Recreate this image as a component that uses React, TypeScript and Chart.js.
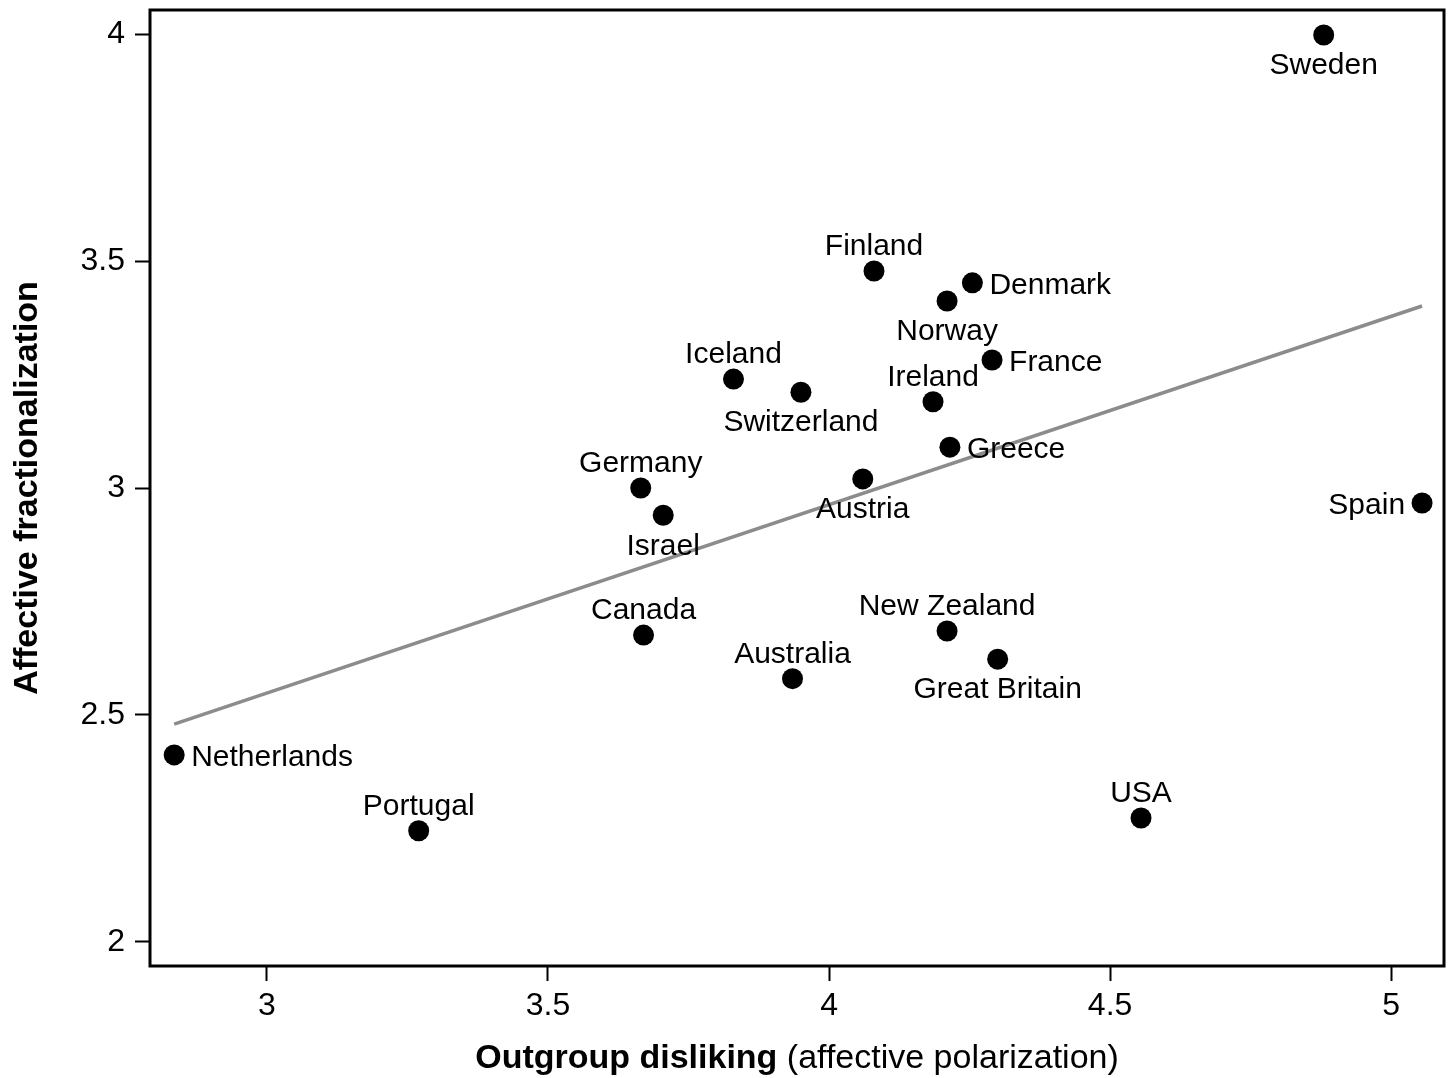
import React, { useEffect, useRef } from "react";
import { Chart, registerables } from "chart.js";

Chart.register(...registerables);

const countries = [
  "Sweden", "Finland", "Denmark", "Norway", "France", "Iceland", "Switzerland",
  "Ireland", "Greece", "Austria", "Germany", "Israel", "Spain", "Canada",
  "New Zealand", "Great Britain", "Australia", "Netherlands", "Portugal", "USA",
];
const outgroupDisliking = [
  4.88, 4.08, 4.255, 4.21, 4.29, 3.83, 3.95,
  4.185, 4.215, 4.06, 3.665, 3.705, 5.055, 3.67,
  4.21, 4.3, 3.935, 2.835, 3.27, 4.555,
];
const affectiveFractionalization = [
  3.998, 3.478, 3.452, 3.412, 3.282, 3.24, 3.211,
  3.19, 3.09, 3.02, 3.0, 2.94, 2.967, 2.676,
  2.685, 2.623, 2.58, 2.412, 2.245, 2.273,
];
const labelPlacement = [
  "bottom", "top", "right", "bottom", "right", "top", "bottom",
  "top", "right", "bottom", "top", "bottom", "left", "top",
  "top", "bottom", "top", "right", "top", "top",
];
const fitX = [2.835, 5.055];
const fitY = [2.48, 3.401];
const xTicks = [3, 3.5, 4, 4.5, 5];
const yTicks = [2, 2.5, 3, 3.5, 4];

const FONT = '"Liberation Sans", Arial, Helvetica, sans-serif';

const decorPlugin = {
  id: "decor",
  afterDatasetsDraw(chart: any) {
    const ctx = chart.ctx;
    const area = chart.chartArea;
    const meta = chart.getDatasetMeta(0);
    ctx.save();
    ctx.fillStyle = "#000";
    ctx.font = `30px ${FONT}`;
    meta.data.forEach((pt: any, i: number) => {
      const pos = labelPlacement[i];
      let x = pt.x;
      let y = pt.y;
      ctx.textBaseline = "middle";
      if (pos === "top") {
        ctx.textAlign = "center";
        y -= 24;
      } else if (pos === "bottom") {
        ctx.textAlign = "center";
        y += 31;
      } else if (pos === "right") {
        ctx.textAlign = "left";
        x += 17;
        y += 3;
      } else {
        ctx.textAlign = "right";
        x -= 17;
        y += 3;
      }
      ctx.fillText(countries[i], x, y);
    });
    ctx.strokeStyle = "#000";
    ctx.lineWidth = 3;
    ctx.strokeRect(area.left, area.top, area.right - area.left, area.bottom - area.top);
    ctx.restore();
  },
  afterDraw(chart: any) {
    const ctx = chart.ctx;
    const area = chart.chartArea;
    ctx.save();
    ctx.fillStyle = "#000";
    const boldPart = "Outgroup disliking";
    const normPart = " (affective polarization)";
    ctx.font = `bold 34px ${FONT}`;
    const wb = ctx.measureText(boldPart).width;
    ctx.font = `34px ${FONT}`;
    const wn = ctx.measureText(normPart).width;
    const cx = (area.left + area.right) / 2;
    const startX = cx - (wb + wn) / 2;
    ctx.textBaseline = "middle";
    ctx.textAlign = "left";
    ctx.font = `bold 34px ${FONT}`;
    ctx.fillText(boldPart, startX, 1059);
    ctx.font = `34px ${FONT}`;
    ctx.fillText(normPart, startX + wb, 1059);
    ctx.translate(28, (area.top + area.bottom) / 2);
    ctx.rotate(-Math.PI / 2);
    ctx.textAlign = "center";
    ctx.font = `bold 34px ${FONT}`;
    ctx.fillText("Affective fractionalization", 0, 0);
    ctx.restore();
  },
};

export default function App() {
  const canvasRef = useRef<HTMLCanvasElement | null>(null);

  useEffect(() => {
    if (!canvasRef.current) return;
    const scatterData = outgroupDisliking.map((x, i) => ({ x, y: affectiveFractionalization[i] }));
    const lineData = fitX.map((x, i) => ({ x, y: fitY[i] }));
    const chart = new Chart(canvasRef.current, {
      type: "scatter",
      data: {
        datasets: [
          {
            type: "scatter",
            label: "Countries",
            data: scatterData,
            pointRadius: 10.5,
            pointHoverRadius: 10.5,
            pointBackgroundColor: "#000",
            pointBorderColor: "#000",
            pointBorderWidth: 0,
          },
          {
            type: "line",
            label: "Fit",
            data: lineData,
            borderColor: "#8c8c8c",
            borderWidth: 3.5,
            pointRadius: 0,
            fill: false,
            showLine: true,
          } as any,
        ],
      },
      options: {
        animation: false,
        responsive: false,
        maintainAspectRatio: false,
        layout: { autoPadding: false, padding: { left: 0, top: 10, right: 7, bottom: 0 } },
        plugins: {
          legend: { display: false },
          tooltip: { enabled: false },
        },
        scales: {
          x: {
            type: "linear",
            min: 2.792,
            max: 5.094,
            afterBuildTicks: (scale: any) => {
              scale.ticks = xTicks.map((v) => ({ value: v }));
            },
            afterFit: (scale: any) => {
              scale.height = 112;
              scale.paddingLeft = 0;
              scale.paddingRight = 0;
            },
            border: { display: false },
            grid: {
              display: true,
              drawOnChartArea: false,
              drawTicks: true,
              tickLength: 15,
              tickWidth: 2,
              tickColor: "#000",
            },
            ticks: {
              color: "#000",
              font: { size: 32, family: FONT },
              padding: 6,
              maxRotation: 0,
              callback: (v: any) => String(v),
            },
          },
          y: {
            type: "linear",
            min: 1.947,
            max: 4.053,
            afterBuildTicks: (scale: any) => {
              scale.ticks = yTicks.map((v) => ({ value: v }));
            },
            afterFit: (scale: any) => {
              scale.width = 150;
              scale.paddingTop = 0;
              scale.paddingBottom = 0;
            },
            border: { display: false },
            grid: {
              display: true,
              drawOnChartArea: false,
              drawTicks: true,
              tickLength: 15,
              tickWidth: 2,
              tickColor: "#000",
            },
            ticks: {
              color: "#000",
              font: { size: 32, family: FONT },
              padding: 10,
              callback: (v: any) => String(v),
            },
          },
        },
      },
      plugins: [decorPlugin],
    });
    return () => chart.destroy();
  }, []);

  return (
    <div style={{ position: "fixed", left: 0, top: 0, width: 1451, height: 1078, background: "#fff" }}>
      <canvas ref={canvasRef} width={1451} height={1078} style={{ width: 1451, height: 1078 }} />
    </div>
  );
}
